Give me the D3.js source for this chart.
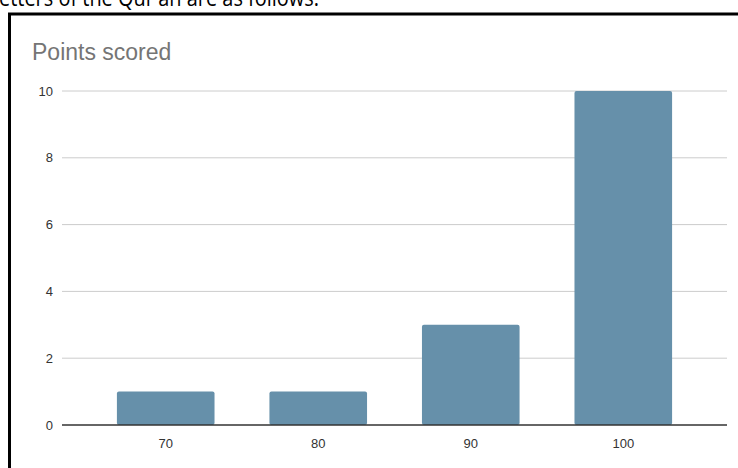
<!DOCTYPE html>
<html>
<head>
<meta charset="utf-8">
<script src="https://cdn.jsdelivr.net/npm/d3@7"></script>
<style>
  body { margin: 0; background: #fff; }
</style>
</head>
<body>
<div id="chart"></div>
<script>
// Chart data
const categories = ["70", "80", "90", "100"];
const values = [1, 1, 3, 10];
const yTicks = [0, 2, 4, 6, 8, 10];

const width = 738;
const height = 468;
const margin = {left: 62, right: 11, top: 91, bottom: 43};

const svg = d3.select("#chart")
              .append("svg")
              .attr("width", width)
              .attr("height", height);

// Cut-off sentence above the chart box
svg.append("text")
    .attr("x", -1)
    .attr("y", 6)
    .text("etters of the Qur'an are as follows:")
    .attr("textLength", 320)
    .attr("lengthAdjust", "spacingAndGlyphs")
    .style("font-family", "'Open Sans', sans-serif")
    .style("font-size", "23px")
    .style("fill", "#000");

// Black frame (only top and left edges visible)
svg.append("path")
    .attr("d", "M9.5," + height + " V14 H" + width)
    .attr("fill", "none")
    .attr("stroke", "#000")
    .attr("stroke-width", 3);

// Chart title
svg.append("text")
    .attr("x", 32)
    .attr("y", 60)
    .text("Points scored")
    .style("font-family", "Arial, 'Liberation Sans', sans-serif")
    .style("font-size", "23px")
    .style("fill", "#757575");

let x = d3.scaleBand()
          .domain(categories)
          .range([margin.left, width - margin.right])
          .padding(0.36);

let y = d3.scaleLinear()
          .domain([0, 10])
          .range([height - margin.bottom, margin.top]);

// Gridlines
svg.append("g")
    .selectAll("line")
    .data(yTicks.filter(d => d !== 0))
    .enter()
    .append("line")
    .attr("x1", margin.left)
    .attr("x2", width - margin.right)
    .attr("y1", d => y(d))
    .attr("y2", d => y(d))
    .attr("stroke", "#cccccc")
    .attr("stroke-width", 1);

// Y tick labels
svg.append("g")
    .selectAll("text")
    .data(yTicks)
    .enter()
    .append("text")
    .attr("x", 53)
    .attr("y", d => y(d))
    .attr("dy", "0.35em")
    .attr("text-anchor", "end")
    .text(d => d)
    .style("font-family", "Arial, 'Liberation Sans', sans-serif")
    .style("font-size", "13px")
    .style("fill", "#333");

// Bars
svg.append("g")
    .selectAll("rect")
    .data(values)
    .enter()
    .append("rect")
    .attr("x", (d, i) => x(categories[i]))
    .attr("y", d => y(d))
    .attr("width", x.bandwidth())
    .attr("height", d => y(0) - y(d))
    .attr("rx", 2)
    .style("fill", "#6690aa");

// Baseline
svg.append("line")
    .attr("x1", margin.left)
    .attr("x2", width - margin.right)
    .attr("y1", y(0))
    .attr("y2", y(0))
    .attr("stroke", "#333")
    .attr("stroke-width", 1.5);

// X tick labels
svg.append("g")
    .selectAll("text")
    .data(categories)
    .enter()
    .append("text")
    .attr("x", d => x(d) + x.bandwidth() / 2)
    .attr("y", y(0) + 23)
    .attr("text-anchor", "middle")
    .text(d => d)
    .style("font-family", "Arial, 'Liberation Sans', sans-serif")
    .style("font-size", "13px")
    .style("fill", "#333");
</script>
</body>
</html>
